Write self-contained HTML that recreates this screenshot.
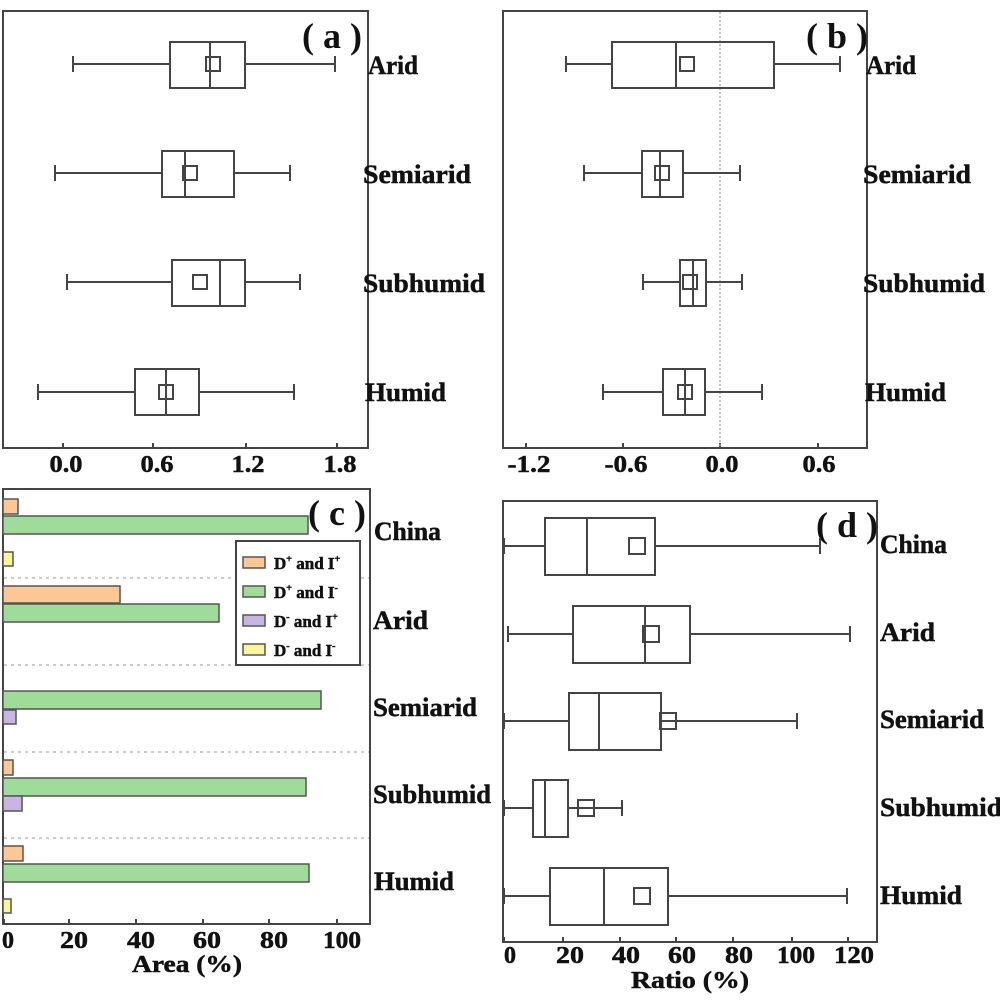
<!DOCTYPE html>
<html><head><meta charset="utf-8"><style>
html,body{margin:0;padding:0;background:#fff}
svg{display:block}
text{font-family:"Liberation Serif",serif;font-weight:bold;fill:#111}
.t{stroke:#111;stroke-width:0.5}
</style></head><body>
<svg width="1000" height="1000" viewBox="0 0 1000 1000" xmlns="http://www.w3.org/2000/svg">
<g fill="none" stroke="#444" stroke-width="2">
<rect x="3" y="11" width="365" height="437"/>
<rect x="503" y="11" width="364" height="437"/>
<rect x="3" y="489" width="367" height="435"/>
<rect x="503" y="501" width="374" height="441"/>
</g>
<g stroke="#444" stroke-width="2">
<line x1="63" y1="448" x2="63" y2="443"/><line x1="153" y1="448" x2="153" y2="443"/><line x1="246" y1="448" x2="246" y2="443"/><line x1="337" y1="448" x2="337" y2="443"/>
<line x1="526" y1="448" x2="526" y2="443"/><line x1="623" y1="448" x2="623" y2="443"/><line x1="720" y1="448" x2="720" y2="443"/><line x1="818" y1="448" x2="818" y2="443"/>
<line x1="4" y1="924" x2="4" y2="919"/><line x1="69" y1="924" x2="69" y2="919"/><line x1="136" y1="924" x2="136" y2="919"/><line x1="203" y1="924" x2="203" y2="919"/><line x1="269" y1="924" x2="269" y2="919"/><line x1="337" y1="924" x2="337" y2="919"/>
<line x1="504" y1="942" x2="504" y2="937"/><line x1="563" y1="942" x2="563" y2="937"/><line x1="620" y1="942" x2="620" y2="937"/><line x1="676" y1="942" x2="676" y2="937"/><line x1="733" y1="942" x2="733" y2="937"/><line x1="792" y1="942" x2="792" y2="937"/><line x1="848" y1="942" x2="848" y2="937"/>
</g>
<g font-size="24" text-anchor="middle" class="t">
<text x="66" y="472" textLength="33" lengthAdjust="spacingAndGlyphs">0.0</text><text x="157" y="472" textLength="33" lengthAdjust="spacingAndGlyphs">0.6</text><text x="248" y="472" textLength="33" lengthAdjust="spacingAndGlyphs">1.2</text><text x="340" y="472" textLength="33" lengthAdjust="spacingAndGlyphs">1.8</text>
<text x="529" y="472" textLength="43" lengthAdjust="spacingAndGlyphs">-1.2</text><text x="626" y="472" textLength="43" lengthAdjust="spacingAndGlyphs">-0.6</text><text x="722" y="472" textLength="33" lengthAdjust="spacingAndGlyphs">0.0</text><text x="819" y="472" textLength="33" lengthAdjust="spacingAndGlyphs">0.6</text>
<text x="8" y="948" textLength="12" lengthAdjust="spacingAndGlyphs">0</text><text x="74" y="948" textLength="28" lengthAdjust="spacingAndGlyphs">20</text><text x="141" y="948" textLength="28" lengthAdjust="spacingAndGlyphs">40</text><text x="207" y="948" textLength="28" lengthAdjust="spacingAndGlyphs">60</text><text x="274" y="948" textLength="28" lengthAdjust="spacingAndGlyphs">80</text><text x="342" y="948" textLength="38" lengthAdjust="spacingAndGlyphs">100</text>
<text x="510" y="963" textLength="12" lengthAdjust="spacingAndGlyphs">0</text><text x="570" y="963" textLength="28" lengthAdjust="spacingAndGlyphs">20</text><text x="626" y="963" textLength="28" lengthAdjust="spacingAndGlyphs">40</text><text x="682" y="963" textLength="28" lengthAdjust="spacingAndGlyphs">60</text><text x="739" y="963" textLength="28" lengthAdjust="spacingAndGlyphs">80</text><text x="796" y="963" textLength="38" lengthAdjust="spacingAndGlyphs">100</text><text x="854" y="963" textLength="40" lengthAdjust="spacingAndGlyphs">120</text>
<text x="187" y="972" textLength="110" lengthAdjust="spacingAndGlyphs">Area (%)</text><text x="690" y="988" textLength="118" lengthAdjust="spacingAndGlyphs">Ratio (%)</text>
</g>
<g font-size="36">
<text x="302" y="48">( a )</text>
<text x="806" y="48">( b )</text>
<text x="308" y="525">( c )</text>
<text x="816" y="537">( d )</text>
</g>
<g font-size="26" class="t">
<text x="368" y="74" textLength="50" lengthAdjust="spacingAndGlyphs">Arid</text><text x="363" y="183" textLength="108" lengthAdjust="spacingAndGlyphs">Semiarid</text><text x="363" y="292" textLength="122" lengthAdjust="spacingAndGlyphs">Subhumid</text><text x="365" y="401" textLength="81" lengthAdjust="spacingAndGlyphs">Humid</text>
<text x="866" y="74" textLength="50" lengthAdjust="spacingAndGlyphs">Arid</text><text x="863" y="183" textLength="108" lengthAdjust="spacingAndGlyphs">Semiarid</text><text x="863" y="292" textLength="122" lengthAdjust="spacingAndGlyphs">Subhumid</text><text x="865" y="401" textLength="81" lengthAdjust="spacingAndGlyphs">Humid</text>
<text x="374" y="540" textLength="67" lengthAdjust="spacingAndGlyphs">China</text><text x="373" y="629" textLength="55" lengthAdjust="spacingAndGlyphs">Arid</text><text x="373" y="716" textLength="104" lengthAdjust="spacingAndGlyphs">Semiarid</text><text x="373" y="803" textLength="118" lengthAdjust="spacingAndGlyphs">Subhumid</text><text x="374" y="890" textLength="80" lengthAdjust="spacingAndGlyphs">Humid</text>
<text x="880" y="553" textLength="67" lengthAdjust="spacingAndGlyphs">China</text><text x="880" y="641" textLength="55" lengthAdjust="spacingAndGlyphs">Arid</text><text x="880" y="728" textLength="104" lengthAdjust="spacingAndGlyphs">Semiarid</text><text x="880" y="816" textLength="122" lengthAdjust="spacingAndGlyphs">Subhumid</text><text x="880" y="904" textLength="82" lengthAdjust="spacingAndGlyphs">Humid</text>
</g>
<line x1="720" y1="12" x2="720" y2="447" stroke="#aaa" stroke-width="1.5" stroke-dasharray="2,2"/>
<g fill="none" stroke="#444" stroke-width="2">
<g><line x1="73" y1="64" x2="170" y2="64"/><line x1="245" y1="64" x2="335" y2="64"/><line x1="73" y1="56" x2="73" y2="72"/><line x1="335" y1="56" x2="335" y2="72"/><rect x="170" y="42" width="75" height="46"/><line x1="210" y1="42" x2="210" y2="88"/><rect x="206" y="57" width="14" height="14"/></g>
<g><line x1="55" y1="173" x2="162" y2="173"/><line x1="234" y1="173" x2="290" y2="173"/><line x1="55" y1="165" x2="55" y2="181"/><line x1="290" y1="165" x2="290" y2="181"/><rect x="162" y="151" width="72" height="46"/><line x1="185" y1="151" x2="185" y2="197"/><rect x="183" y="166" width="14" height="14"/></g>
<g><line x1="67" y1="282" x2="172" y2="282"/><line x1="245" y1="282" x2="300" y2="282"/><line x1="67" y1="274" x2="67" y2="290"/><line x1="300" y1="274" x2="300" y2="290"/><rect x="172" y="260" width="73" height="46"/><line x1="220" y1="260" x2="220" y2="306"/><rect x="193" y="275" width="14" height="14"/></g>
<g><line x1="38" y1="392" x2="135" y2="392"/><line x1="199" y1="392" x2="294" y2="392"/><line x1="38" y1="384" x2="38" y2="400"/><line x1="294" y1="384" x2="294" y2="400"/><rect x="135" y="369" width="64" height="46"/><line x1="166" y1="369" x2="166" y2="415"/><rect x="159" y="385" width="14" height="14"/></g>
<g><line x1="566" y1="64" x2="612" y2="64"/><line x1="774" y1="64" x2="840" y2="64"/><line x1="566" y1="56" x2="566" y2="72"/><line x1="840" y1="56" x2="840" y2="72"/><rect x="612" y="42" width="162" height="46"/><line x1="676" y1="42" x2="676" y2="88"/><rect x="680" y="57" width="14" height="14"/></g>
<g><line x1="584" y1="173" x2="642" y2="173"/><line x1="683" y1="173" x2="740" y2="173"/><line x1="584" y1="165" x2="584" y2="181"/><line x1="740" y1="165" x2="740" y2="181"/><rect x="642" y="151" width="41" height="46"/><line x1="660" y1="151" x2="660" y2="197"/><rect x="655" y="166" width="14" height="14"/></g>
<g><line x1="643" y1="282" x2="680" y2="282"/><line x1="706" y1="282" x2="742" y2="282"/><line x1="643" y1="274" x2="643" y2="290"/><line x1="742" y1="274" x2="742" y2="290"/><rect x="680" y="260" width="26" height="46"/><line x1="693" y1="260" x2="693" y2="306"/><rect x="683" y="275" width="14" height="14"/></g>
<g><line x1="603" y1="392" x2="663" y2="392"/><line x1="705" y1="392" x2="762" y2="392"/><line x1="603" y1="384" x2="603" y2="400"/><line x1="762" y1="384" x2="762" y2="400"/><rect x="663" y="369" width="42" height="46"/><line x1="685" y1="369" x2="685" y2="415"/><rect x="678" y="385" width="14" height="14"/></g>
<g><line x1="504" y1="546" x2="545" y2="546"/><line x1="655" y1="546" x2="820" y2="546"/><line x1="504" y1="538" x2="504" y2="554"/><line x1="820" y1="538" x2="820" y2="554"/><rect x="545" y="518" width="110" height="57"/><line x1="587" y1="518" x2="587" y2="575"/><rect x="629" y="538" width="16" height="16"/></g>
<g><line x1="508" y1="634" x2="573" y2="634"/><line x1="690" y1="634" x2="850" y2="634"/><line x1="508" y1="626" x2="508" y2="642"/><line x1="850" y1="626" x2="850" y2="642"/><rect x="573" y="606" width="117" height="57"/><line x1="645" y1="606" x2="645" y2="663"/><rect x="643" y="626" width="16" height="16"/></g>
<g><line x1="504" y1="721" x2="569" y2="721"/><line x1="661" y1="721" x2="797" y2="721"/><line x1="504" y1="713" x2="504" y2="729"/><line x1="797" y1="713" x2="797" y2="729"/><rect x="569" y="693" width="92" height="57"/><line x1="599" y1="693" x2="599" y2="750"/><rect x="660" y="713" width="16" height="16"/></g>
<g><line x1="504" y1="808" x2="533" y2="808"/><line x1="568" y1="808" x2="622" y2="808"/><line x1="504" y1="800" x2="504" y2="816"/><line x1="622" y1="800" x2="622" y2="816"/><rect x="533" y="780" width="35" height="57"/><line x1="545" y1="780" x2="545" y2="837"/><rect x="578" y="800" width="16" height="16"/></g>
<g><line x1="504" y1="896" x2="550" y2="896"/><line x1="668" y1="896" x2="847" y2="896"/><line x1="504" y1="888" x2="504" y2="904"/><line x1="847" y1="888" x2="847" y2="904"/><rect x="550" y="868" width="118" height="57"/><line x1="604" y1="868" x2="604" y2="925"/><rect x="634" y="888" width="16" height="16"/></g>
</g>
<g stroke="#bbb" stroke-width="1.5" stroke-dasharray="3,4">
<line x1="4" y1="578" x2="369" y2="578"/><line x1="4" y1="665" x2="369" y2="665"/><line x1="4" y1="752" x2="369" y2="752"/><line x1="4" y1="838" x2="369" y2="838"/>
</g>
<g stroke="#555" stroke-width="1.5">
<rect x="3" y="499" width="15" height="15" fill="#fbc795"/>
<rect x="3" y="516" width="305" height="18" fill="#9fdc9a"/>
<rect x="3" y="552" width="10" height="14" fill="#fbf59a"/>
<rect x="3" y="586" width="117" height="17" fill="#fbc795"/>
<rect x="3" y="604" width="216" height="18" fill="#9fdc9a"/>
<rect x="3" y="691" width="318" height="18" fill="#9fdc9a"/>
<rect x="3" y="710" width="13" height="14" fill="#c9b5e3"/>
<rect x="3" y="760" width="10" height="15" fill="#fbc795"/>
<rect x="3" y="778" width="303" height="18" fill="#9fdc9a"/>
<rect x="3" y="796" width="19" height="15" fill="#c9b5e3"/>
<rect x="3" y="846" width="20" height="15" fill="#fbc795"/>
<rect x="3" y="864" width="306" height="18" fill="#9fdc9a"/>
<rect x="3" y="899" width="8" height="14" fill="#fbf59a"/>
</g>
<rect x="236" y="541" width="124" height="124" fill="#fff" stroke="#444" stroke-width="2"/>
<g stroke="#555" stroke-width="1.5">
<rect x="243" y="557" width="22" height="11" fill="#fbc795"/>
<rect x="243" y="586" width="22" height="11" fill="#9fdc9a"/>
<rect x="243" y="615" width="22" height="11" fill="#c9b5e3"/>
<rect x="243" y="644" width="22" height="11" fill="#fbf59a"/>
</g>
<g font-size="17" class="t">
<text x="274" y="569">D<tspan font-size="10" dy="-7">+</tspan><tspan dy="7"> and I</tspan><tspan font-size="10" dy="-7">+</tspan></text>
<text x="274" y="598">D<tspan font-size="10" dy="-7">+</tspan><tspan dy="7"> and I</tspan><tspan font-size="10" dy="-7">-</tspan></text>
<text x="274" y="627">D<tspan font-size="10" dy="-7">-</tspan><tspan dy="7"> and I</tspan><tspan font-size="10" dy="-7">+</tspan></text>
<text x="274" y="656">D<tspan font-size="10" dy="-7">-</tspan><tspan dy="7"> and I</tspan><tspan font-size="10" dy="-7">-</tspan></text>
</g>
</svg>
</body></html>
